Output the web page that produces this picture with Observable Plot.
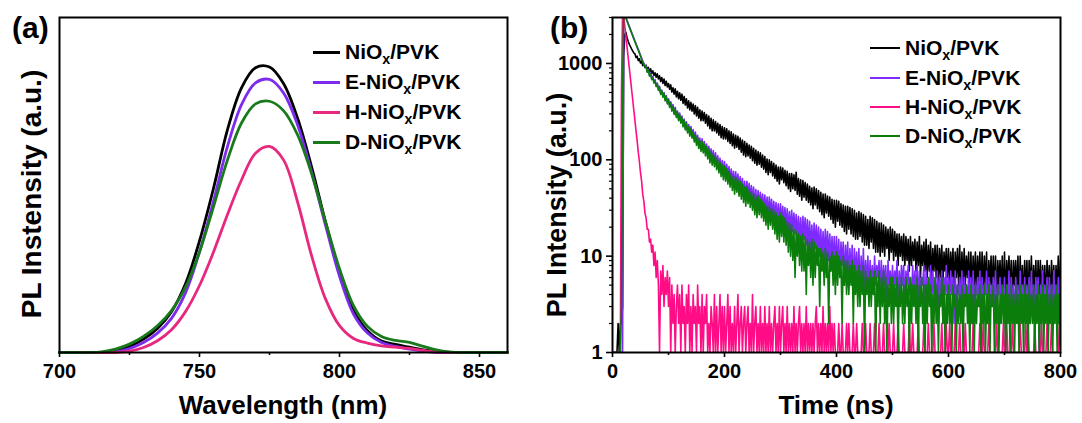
<!DOCTYPE html>
<html>
<head>
<meta charset="utf-8">
<script src="https://cdn.jsdelivr.net/npm/d3@7"></script>
<script src="https://cdn.jsdelivr.net/npm/@observablehq/plot@0.6"></script>
<style>
  html, body { margin: 0; padding: 0; background: #fff; }
  #wrap { position: relative; width: 1082px; height: 423px; overflow: hidden; font-family: "Liberation Sans", Arial, sans-serif; font-weight: bold; color: #000; }
  .panel { position: absolute; top: 0; width: 541px; height: 423px; overflow: hidden; }
  .lbl { position: absolute; white-space: nowrap; line-height: 1; }
  .legrow { position: absolute; display: flex; align-items: center; height: 24px; white-space: nowrap; }
  .legrow .sw { display: inline-block; margin-right: 5px; }
  .legrow sub { font-size: 0.68em; vertical-align: -0.38em; line-height: 0; }
</style>
</head>
<body>
<div id="wrap">
  <div class="panel" id="pa" style="left:0"></div>
  <div class="panel" id="pb" style="left:541px"></div>
</div>
<script>
// ---------------- Panel (a): steady-state PL spectra ----------------
const wavelengthNm = [700,705,710,715,720,725,730,735,740,745,750,755,760,765,770,775,780,785,790,795,800,805,810,815,820,825,830,835,840,845,850,855,860];
const plNiOx  = [0,0,0,0,0.004,0.018,0.040,0.072,0.122,0.205,0.333,0.490,0.665,0.790,0.850,0.852,0.803,0.700,0.555,0.390,0.240,0.125,0.065,0.034,0.024,0.016,0.008,0.003,0,0,0,0,0];
const plENiOx = [0,0,0,0,0.002,0.012,0.030,0.058,0.102,0.178,0.300,0.452,0.615,0.740,0.805,0.815,0.775,0.680,0.540,0.380,0.228,0.115,0.058,0.030,0.018,0.010,0.004,0,0,0,0,0,0];
const plHNiOx = [0,0,0,0,0,0.004,0.015,0.035,0.068,0.122,0.200,0.300,0.412,0.515,0.595,0.615,0.575,0.450,0.290,0.160,0.080,0.042,0.028,0.020,0.016,0.012,0.006,0.001,0,0,0,0,0];
const plDNiOx = [0,0,0,0.002,0.010,0.025,0.048,0.080,0.125,0.195,0.300,0.435,0.575,0.685,0.742,0.750,0.722,0.650,0.535,0.390,0.250,0.140,0.078,0.048,0.036,0.030,0.018,0.007,0.001,0,0,0,0];
const wavelengthMajorTicks = [700,750,800,850];
const wavelengthMinorTicks = [725,775,825];

// ---------------- Panel (b): TRPL decays (2 ns channels) ----------------
const channelWidthNs = 2;
const nioxDecay = [
1,1,1,1,1,2,1,2,2,3,
1200,2000,2100,1850,1700,1580,1500,1420,1350,1290,
1260,1150,1190,1070,1120,1010,1060,950,1000,905,
960,860,910,820,880,790,840,750,800,720,
780,690,745,650,715,620,690,590,655,570,
620,540,600,505,560,480,545,450,515,430,
495,415,480,385,455,370,430,345,410,330,
395,320,380,300,365,285,350,270,330,255,
320,255,310,240,295,225,285,210,270,200,
260,200,250,190,240,180,232,170,222,165,
215,165,210,155,200,148,195,140,185,132,
180,135,175,128,168,120,160,112,155,108,
148,110,142,104,138,98,132,92,126,88,
122,90,118,84,112,80,108,74,102,70,
100,74,96,68,92,64,88,60,84,56,
84,62,82,58,78,54,76,50,72,47,
72,50,70,48,74,44,64,42,62,38,
61,41,58,38,56,36,53,34,51,31,
52,34,50,31,48,29,46,27,44,25,
44,28,42,26,41,24,39,22,38,20,
38,23,37,21,35,20,34,18,33,17,
33,19,32,17,31,16,30,15,28,15,
29,16,28,14,27,13,26,13,24,12,
26,14,25,12,24,11,23,11,22,10,
22,11,21,10,20,12,19,9,20,11,
19,9,18,10,17,8,17,10,16,9,
17,8,16,9,15,7,16,8,14,9,
15,7,14,8,16,6,13,8,14,7,
15,6,13,7,14,5,12,7,13,6,
13,5,12,6,13,5,11,7,12,6,
12,5,11,6,12,4,11,6,12,5,
13,4,11,5,12,5,10,6,11,4,
11,4,10,5,11,4,10,5,11,4,
11,4,10,5,11,3,9,5,10,4,
10,4,10,3,9,5,9,4,10,3,
11,3,9,5,10,4,9,3,9,5,
9,4,10,3,10,4,8,3,9,4,
9,3,9,4,10,3,8,4,9,3,
9,4,9,3,8,4,8,3,9,4,
8,3,9,4,8,3,8,4,10,3,
9];
const eNioxDecay = [
1,1,1,1,1,1,1,1,1,1,
3500,3300,3000,2800,2600,2430,2270,2120,1980,1850,
1720,1610,1500,1400,1310,1220,1140,1060,990,950,
940,830,870,760,800,700,735,640,680,590,
625,540,580,490,530,455,500,420,465,390,
430,360,400,330,375,305,350,285,320,265,
305,250,285,230,265,212,248,198,232,185,
222,176,206,162,194,150,180,140,168,130,
165,126,155,118,146,110,138,100,130,95,
125,92,118,86,110,80,104,74,98,69,
96,68,90,63,85,59,80,55,76,51,
75,53,71,49,67,46,64,42,60,39,
60,41,57,38,54,36,52,33,49,31,
48,33,46,31,44,29,43,28,41,26,
41,27,39,25,37,24,36,22,35,21,
35,22,33,21,32,19,31,18,29,17,
30,18,28,17,27,15,26,14,25,13,
26,15,25,13,24,12,23,11,21,11,
22,12,21,11,20,10,19,9,18,9,
19,10,18,9,17,8,16,8,16,7,
16,7,15,6,14,8,14,5,13,7,
14,5,12,6,13,4,12,6,11,5,
12,4,10,5,12,4,9,5,10,4,
9,5,8,4,10,5,8,6,9,4,
9,4,8,5,8,3,9,5,7,4,
8,4,7,5,9,3,7,4,8,5,
8,3,7,5,8,4,6,3,8,4,
7,4,8,3,7,4,6,5,8,2,
7,3,6,4,8,3,7,4,6,3,
7,3,6,4,7,2,6,4,8,3,
6,3,7,4,6,2,7,3,5,4,
6,3,7,2,6,4,5,3,7,3,
6,2,7,3,5,4,6,3,7,2,
6,3,5,4,7,2,6,3,5,3,
6,3,7,2,5,4,6,3,5,3,
6,1,5,3,7,2,6,3,5,2,
6,3,5,2,7,3,5,3,6,2,
5,3,6,2,7,3,5,2,6,3,
6,1,5,3,7,2,5,3,6,2,
6,3,5,2,7,3,5,2,6,3,
6];
const hNioxDecay = [
1,1,1,1,1,1,1,1,500,3500,
3100,2450,1900,1480,1150,900,700,545,425,330,
258,200,158,120,96,73,60,44,37,28,
25,19,19,14,15,11,13,8,11,6,
9,5,1,7,4,8,3,6,4,7,
3,6,1,5,2,4,1,3,5,2,
4,1,5,2,3,1,4,2,5,1,
3,1,4,2,3,1,5,2,3,1,
4,1,3,2,4,1,2,1,3,2,
1,4,1,3,1,2,4,1,3,1,
3,1,2,4,1,3,1,2,1,3,
1,2,4,1,2,3,1,2,3,1,
2,3,1,2,1,4,1,2,3,1,
2,1,3,1,2,1,3,1,2,1,
3,1,2,1,2,3,1,2,1,3,
1,2,3,1,2,1,3,1,2,1,
2,1,3,1,2,1,2,3,1,2,
1,2,1,3,1,2,1,2,1,2,
1,2,3,1,2,1,2,1,3,1,
2,1,2,1,3,1,2,1,2,1,
1,1,2,1,1,2,1,1,1,2,
1,2,1,1,1,2,1,1,2,1,
1,1,1,2,1,1,2,1,1,1,
2,1,1,1,2,1,1,1,2,1,
1,1,2,1,1,1,1,2,1,1,
1,2,1,1,1,2,1,1,1,1,
2,1,1,1,1,2,1,1,2,1,
1,1,1,2,1,1,1,1,2,1,
1,1,2,1,1,1,1,2,1,1,
1,1,1,1,2,1,1,1,2,1,
1,2,1,1,1,1,2,1,1,1,
2,1,1,1,1,2,1,1,1,1,
1,1,2,1,1,1,1,1,2,1,
1,2,1,1,1,1,2,1,1,1,
1,1,1,2,1,1,1,1,1,2,
1,1,2,1,1,1,1,2,1,1,
1,1,1,1,2,1,1,1,1,2,
1,2,1,1,1,1,1,2,1,1,
1,1,1,2,1,1,1,1,2,1,
1,1,2,1,1,1,1,1,1,2,
1];
const dNioxDecay = [
1,1,1,1,1,1,1,1,3,500,
3500,3250,2950,2750,2550,2380,2220,2070,1930,1800,
1680,1570,1460,1370,1280,1190,1110,1040,970,930,
920,810,850,740,780,680,715,625,660,575,
610,525,565,478,518,445,485,410,450,380,
418,350,390,320,362,296,340,275,312,255,
295,240,275,220,256,204,238,190,222,176,
212,168,196,153,184,141,170,131,158,122,
155,118,146,110,137,102,129,93,121,88,
115,85,108,79,100,73,94,67,88,62,
86,60,81,56,76,52,71,48,67,44,
66,46,62,42,59,39,56,36,52,33,
52,35,49,32,46,30,44,27,41,25,
42,27,39,25,37,23,35,21,33,19,
33,21,31,19,30,17,28,15,26,14,
28,16,26,14,25,13,23,11,22,10,
21,9,19,6,18,10,17,8,16,7,
17,7,16,4,15,8,14,6,15,5,
14,6,13,8,12,3,12,7,11,5,
12,6,11,2,10,7,11,5,10,4,
11,5,10,6,9,2,10,5,9,4,
9,4,8,5,9,2,8,4,7,3,
8,3,7,4,8,1,7,4,6,3,
7,3,6,4,7,1,6,3,7,2,
6,3,7,2,6,1,5,3,6,2,
6,2,5,3,6,1,5,3,6,2,
5,2,6,3,5,1,6,2,5,3,
5,2,6,1,5,3,6,2,5,1,
5,2,6,3,5,1,4,2,6,2,
5,1,4,3,6,2,5,1,4,2,
5,2,4,1,5,3,4,1,5,2,
4,2,5,1,4,3,5,2,4,1,
5,2,4,1,5,2,4,3,5,1,
4,2,5,1,4,2,5,1,4,3,
5,1,4,2,5,1,4,2,5,2,
4,1,5,2,4,1,5,2,4,1,
5,2,4,1,5,2,4,1,5,2,
4,1,5,2,4,2,5,1,4,2,
5,1,4,2,5,1,4,2,5,1,
4,2,5,1,4,2,5,1,4,2,
5];
const timeMajorTicks = [0,200,400,600,800];
const timeMinorTicks = [100,300,500,700];
const countMajorTicks = [1,10,100,1000];
const countMinorTicks = [2,3,4,5,6,7,8,9,20,30,40,50,60,70,80,90,200,300,400,500,600,700,800,900,2000,3000];

// ---------------- Series names & colours ----------------
const seriesLabelsHtml = ["NiO<sub>x</sub>/PVK", "E-NiO<sub>x</sub>/PVK", "H-NiO<sub>x</sub>/PVK", "D-NiO<sub>x</sub>/PVK"];
const colorsA = ["#000000", "#7d2cee", "#e8277f", "#197a1c"];
const colorsB = ["#000000", "#7f2bff", "#ff0c86", "#0a7d0a"];

const FONT = "'Liberation Sans', Arial, sans-serif";

// ---------- build panel (a) ----------
const specSeries = [plNiOx, plENiOx, plHNiOx, plDNiOx];
const specData = specSeries.map(vals => wavelengthNm.map((w, i) => ({w, v: vals[i]})));

const plotA = Plot.plot({
  width: 541, height: 423,
  marginLeft: 59, marginRight: 34, marginTop: 17, marginBottom: 71,
  style: {fontFamily: FONT, fontWeight: "bold", fontSize: "20px", color: "#000", background: "transparent", overflow: "visible"},
  x: {domain: [700, 860]},
  y: {domain: [0, 1], axis: null},
  marks: [
    ...specData.map((d, k) => Plot.line(d, {x: "w", y: "v", stroke: colorsA[k], strokeWidth: 2.8, curve: "catmull-rom"})),
    Plot.frame({stroke: "#000", strokeWidth: 2}),
    Plot.axisX({ticks: wavelengthMajorTicks, tickSize: 5, tickPadding: 6, strokeWidth: 1.6, fontSize: 20, fontWeight: "bold", tickFormat: d => String(d), label: null}),
    Plot.axisX({ticks: wavelengthMinorTicks, tickSize: 3, strokeWidth: 1.6, tickFormat: () => "", label: null})
  ]
});
document.getElementById("pa").appendChild(plotA);

// ---------- build panel (b) ----------
const decaySeries = [nioxDecay, eNioxDecay, hNioxDecay, dNioxDecay];
const decayData = decaySeries.map(vals => vals.map((c, i) => ({t: i * channelWidthNs, c})));

const plotB = Plot.plot({
  width: 541, height: 423,
  marginLeft: 71, marginRight: 22, marginTop: 17, marginBottom: 71,
  style: {fontFamily: FONT, fontWeight: "bold", fontSize: "20px", color: "#000", background: "transparent", overflow: "visible"},
  x: {domain: [0, 800]},
  y: {type: "log", domain: [1, 3000]},
  marks: [
    ...decayData.map((d, k) => Plot.line(d, {x: "t", y: "c", stroke: colorsB[k], strokeWidth: 1.6, clip: true})),
    Plot.frame({stroke: "#000", strokeWidth: 2}),
    Plot.axisX({ticks: timeMajorTicks, tickSize: 5, tickPadding: 6, strokeWidth: 1.6, fontSize: 20, fontWeight: "bold", tickFormat: d => String(d), label: null}),
    Plot.axisX({ticks: timeMinorTicks, tickSize: 3, strokeWidth: 1.6, tickFormat: () => "", label: null}),
    Plot.axisY({ticks: countMajorTicks, tickSize: 6, tickPadding: 4, strokeWidth: 1.6, fontSize: 20, fontWeight: "bold", tickFormat: d => String(d), label: null}),
    Plot.axisY({ticks: countMinorTicks, tickSize: 3, strokeWidth: 1.2, tickFormat: () => "", label: null})
  ]
});
document.getElementById("pb").appendChild(plotB);

// ---------- text overlays ----------
function addLabel(parent, html, css) {
  const el = document.createElement("div");
  el.className = "lbl";
  el.innerHTML = html;
  Object.assign(el.style, css);
  parent.appendChild(el);
  return el;
}
const pa = document.getElementById("pa");
const pb = document.getElementById("pb");

addLabel(pa, "(a)", {left: "12px", top: "13px", fontSize: "30px"});
addLabel(pa, "Wavelength (nm)", {left: "283px", top: "392px", fontSize: "26px", transform: "translateX(-50%)"});
addLabel(pa, "PL Instensity (a.u.)", {left: "32px", top: "194px", fontSize: "28px", transform: "translate(-50%,-50%) rotate(-90deg)"});

addLabel(pb, "(b)", {left: "9px", top: "13px", fontSize: "30px"});
addLabel(pb, "Time (ns)", {left: "295px", top: "392px", fontSize: "26px", transform: "translateX(-50%)"});
addLabel(pb, "PL Intensity (a.u.)", {left: "16px", top: "205px", fontSize: "27px", transform: "translate(-50%,-50%) rotate(-90deg)"});

// ---------- legends ----------
function addLegend(parent, x, yCenters, lineLen, lineW, colors, fontSize) {
  seriesLabelsHtml.forEach((lab, k) => {
    const row = document.createElement("div");
    row.className = "legrow";
    row.style.left = x + "px";
    row.style.top = (yCenters[k] - 12) + "px";
    row.style.fontSize = fontSize + "px";
    const sw = document.createElement("span");
    sw.className = "sw";
    sw.style.width = lineLen + "px";
    sw.style.height = lineW + "px";
    sw.style.background = colors[k];
    const tx = document.createElement("span");
    tx.innerHTML = lab;
    row.appendChild(sw);
    row.appendChild(tx);
    parent.appendChild(row);
  });
}
addLegend(pa, 313, [52, 82, 112, 142], 27, 3, colorsA, 21);
addLegend(pb, 329, [48, 78, 107, 136], 30, 2.2, colorsB, 21);
</script>
</body>
</html>
